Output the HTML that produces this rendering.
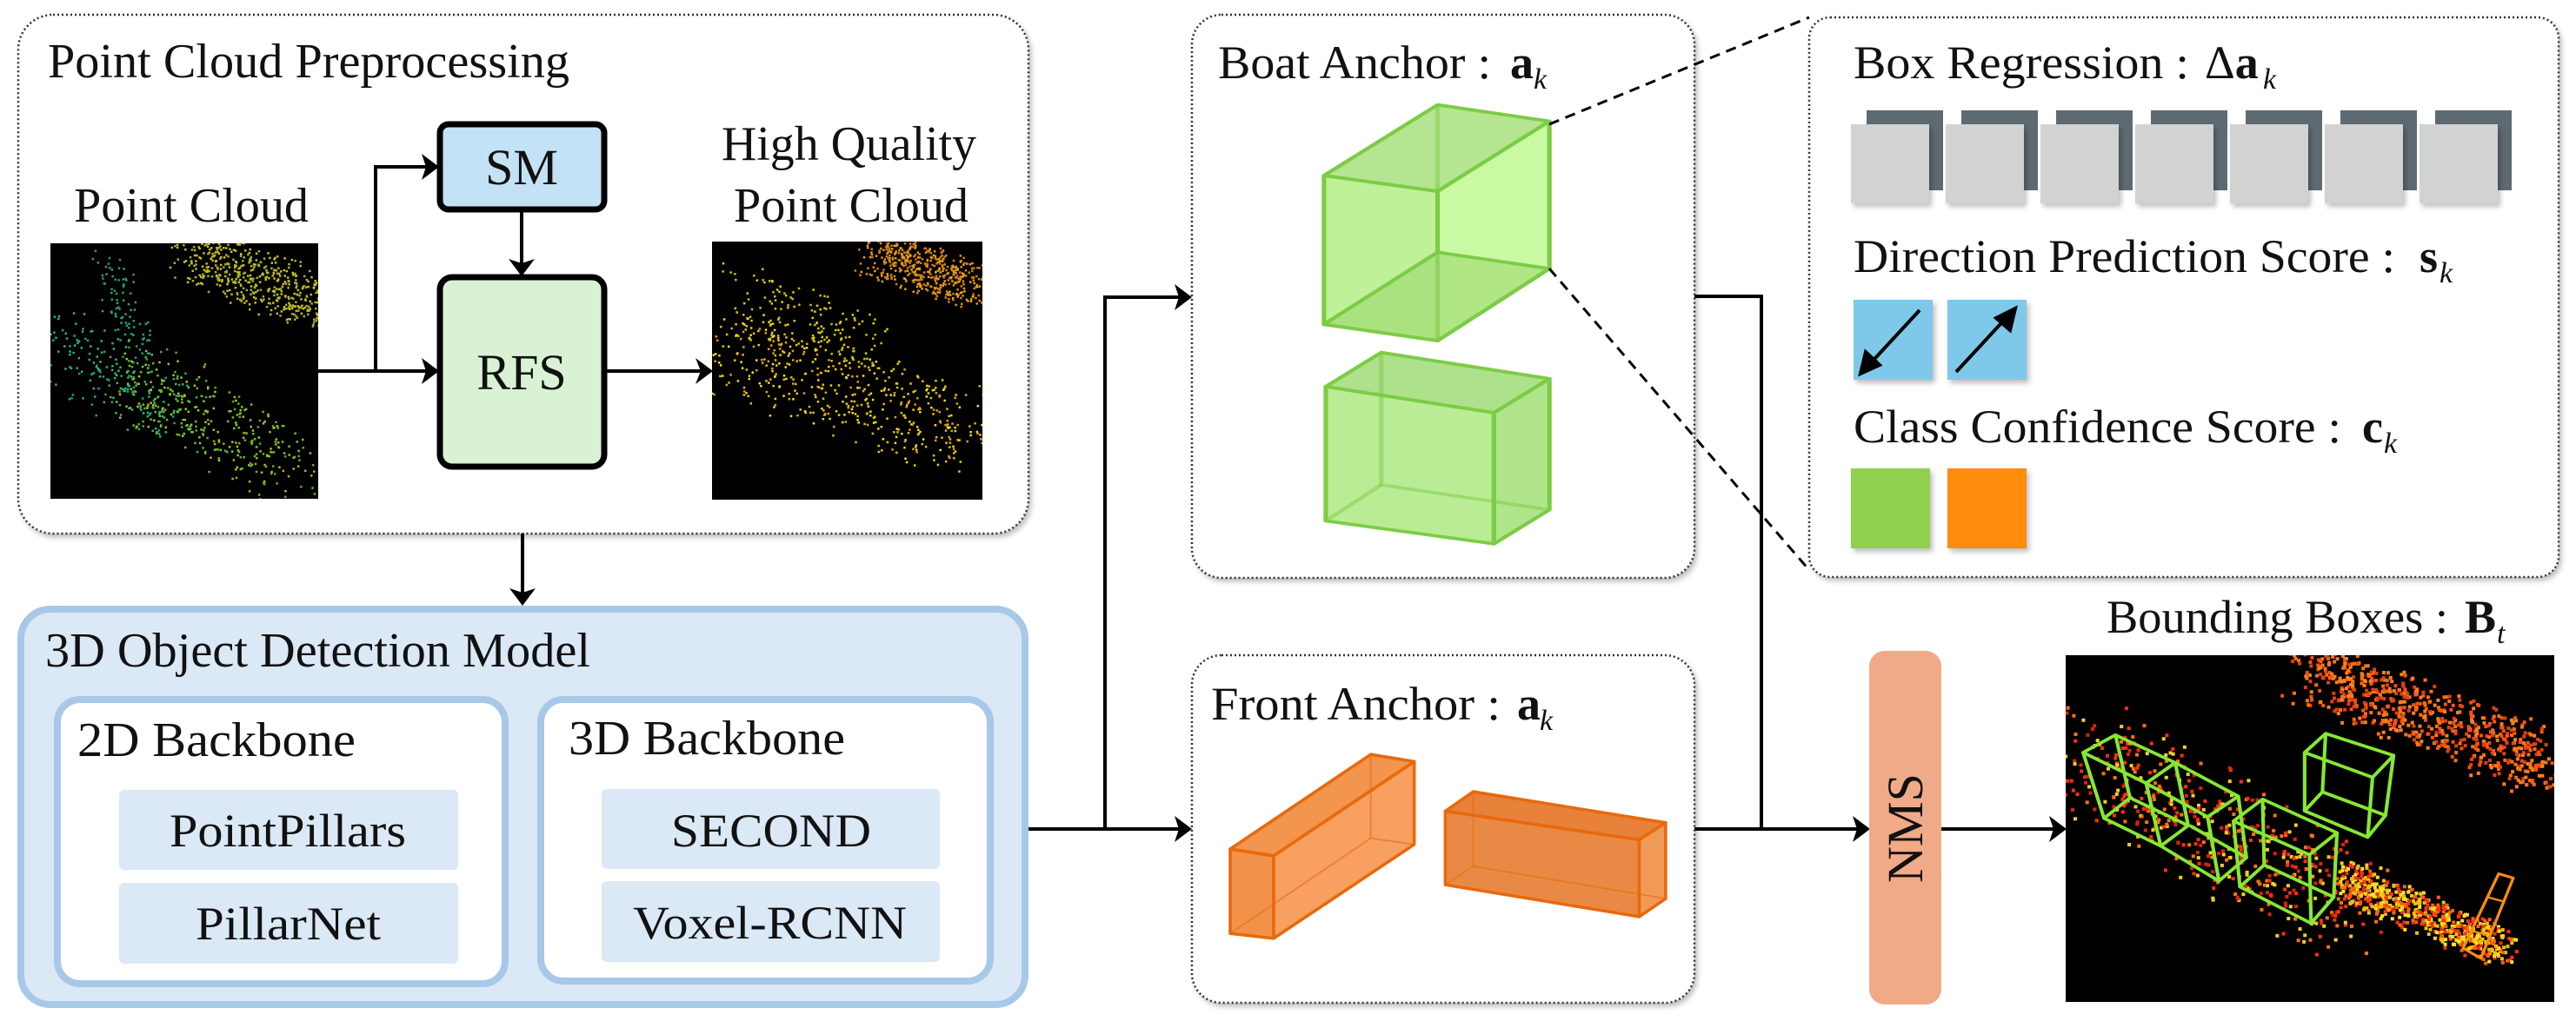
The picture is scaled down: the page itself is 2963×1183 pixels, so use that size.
<!DOCTYPE html>
<html><head><meta charset="utf-8"><style>
html,body{margin:0;padding:0;background:#fff;}
svg{display:block;}
text{font-family:"Liberation Serif","Times New Roman",serif;fill:#111;}
</style></head><body>
<svg id="s" width="2963" height="1183" viewBox="0 0 2963 1183" xmlns="http://www.w3.org/2000/svg" font-family="Liberation Serif, Times New Roman, serif">
<defs>
<filter id="sh" x="-20%" y="-20%" width="140%" height="140%"><feDropShadow dx="3" dy="4" stdDeviation="3" flood-color="#000" flood-opacity="0.25"/></filter>
<clipPath id="c1"><rect x="58" y="280" width="308" height="294"/></clipPath>
<clipPath id="c2"><rect x="819" y="278" width="311" height="297"/></clipPath>
<clipPath id="c3"><rect x="2376" y="754" width="562" height="399"/></clipPath>
</defs>

<rect x="21" y="17" width="1162" height="597" rx="40" fill="#fff" stroke="#333" stroke-width="2.5" stroke-dasharray="2 3" filter="url(#sh)"/>
<text x="55" y="89" font-size="56" textLength="600" lengthAdjust="spacingAndGlyphs">Point Cloud Preprocessing</text>
<text x="85" y="255" font-size="56" textLength="270" lengthAdjust="spacingAndGlyphs">Point Cloud</text>
<text x="830" y="184" font-size="56" textLength="293" lengthAdjust="spacingAndGlyphs">High Quality</text>
<text x="844" y="255" font-size="56" textLength="270" lengthAdjust="spacingAndGlyphs">Point Cloud</text>
<rect x="58" y="280" width="308" height="294" fill="#000"/>
<rect x="819" y="278" width="311" height="297" fill="#000"/>
<g id="pc1" clip-path="url(#c1)"></g><g id="pc2" clip-path="url(#c2)"></g>
<rect x="506" y="143" width="189" height="98" rx="10" fill="#c3e2f5" stroke="#000" stroke-width="7"/>
<text x="600" y="212" font-size="58" text-anchor="middle">SM</text>
<rect x="506" y="319" width="189" height="218" rx="14" fill="#d9f2d3" stroke="#000" stroke-width="7"/>
<text x="600" y="448" font-size="58" text-anchor="middle">RFS</text>

<g stroke="#000" stroke-width="4" fill="none">
<path d="M366 427 H490"/>
<path d="M432 427 V192 H490"/>
<path d="M600 243 V303"/>
<path d="M697 427 H806"/>
<path d="M601 614 V682"/>
<path d="M1183 954 H1356"/>
<path d="M1271 954 V342 H1356"/>
<path d="M1949 341 H2026 V954 H2136"/>
<path d="M1949 954 H2136"/>
<path d="M2233 954 H2362"/>
</g>
<g fill="#000">
<path d="M505 427 L485 412 L490 427 L485 442Z"/>
<path d="M505 192 L485 177 L490 192 L485 207Z"/>
<path d="M600 318 L585 298 L600 303 L615 298Z"/>
<path d="M820 427 L800 412 L806 427 L800 442Z"/>
<path d="M601 697 L586 677 L601 682 L616 677Z"/>
<path d="M1371 954 L1351 939 L1356 954 L1351 969Z"/>
<path d="M1371 342 L1351 327 L1356 342 L1351 357Z"/>
<path d="M2151 954 L2131 939 L2136 954 L2131 969Z"/>
<path d="M2377 954 L2357 939 L2362 954 L2357 969Z"/>
</g>

<rect x="24" y="701" width="1155" height="455" rx="34" fill="#dbe8f6" stroke="#a7c8e8" stroke-width="8"/>
<text x="52" y="767" font-size="56" textLength="627" lengthAdjust="spacingAndGlyphs">3D Object Detection Model</text>
<rect x="66" y="805" width="515" height="327" rx="26" fill="#fff" stroke="#a7c8e8" stroke-width="8"/>
<rect x="622" y="805" width="517" height="324" rx="26" fill="#fff" stroke="#a7c8e8" stroke-width="8"/>
<text x="89" y="870" font-size="56" textLength="320" lengthAdjust="spacingAndGlyphs">2D Backbone</text>
<text x="654" y="868" font-size="56" textLength="318" lengthAdjust="spacingAndGlyphs">3D Backbone</text>
<rect x="137" y="909" width="390" height="92" rx="6" fill="#dbe8f6"/>
<rect x="137" y="1016" width="390" height="93" rx="6" fill="#dbe8f6"/>
<rect x="692" y="908" width="389" height="92" rx="6" fill="#dbe8f6"/>
<rect x="692" y="1014" width="389" height="93" rx="6" fill="#dbe8f6"/>
<text x="195" y="974" font-size="54" textLength="272" lengthAdjust="spacingAndGlyphs">PointPillars</text>
<text x="225" y="1081" font-size="54" textLength="213" lengthAdjust="spacingAndGlyphs">PillarNet</text>
<text x="772" y="974" font-size="54" textLength="230" lengthAdjust="spacingAndGlyphs">SECOND</text>
<text x="728" y="1080" font-size="54" textLength="315" lengthAdjust="spacingAndGlyphs">Voxel-RCNN</text>

<rect x="1371" y="17" width="578" height="648" rx="34" fill="#fff" stroke="#333" stroke-width="2.5" stroke-dasharray="2 3" filter="url(#sh)"/>
<text x="1401" y="90" font-size="54" textLength="314" lengthAdjust="spacingAndGlyphs">Boat Anchor :</text>
<text x="1737" y="90" font-size="54" font-weight="bold">a</text>
<text x="1764" y="102" font-size="34" font-style="italic">k</text>
<g transform="translate(1350,0) scale(1.029,0.754)" stroke="#7ccc45" stroke-width="5" stroke-linejoin="round">
<polygon points="168,268 295,160 420,185 295,292" fill="#a8e07c" fill-opacity="0.85"/>
<polygon points="168,268 295,292 295,520 168,495" fill="#b8f08e" fill-opacity="0.9"/>
<polygon points="295,292 420,185 420,410 295,520" fill="#c4f89a" fill-opacity="0.9"/>
<polygon points="168,495 295,385 420,410 295,520" fill="#9ed870" fill-opacity="0.6"/>
<line x1="295" y1="160" x2="295" y2="385" stroke-opacity="0.5"/>
<polygon points="170,590 232,538 420,578 358,630" fill="#a0dc78" fill-opacity="0.85"/>
<polygon points="170,590 358,630 358,830 170,795" fill="#b2ea8a" fill-opacity="0.9"/>
<polygon points="358,630 420,578 420,778 358,830" fill="#a8e280" fill-opacity="0.9"/>
<polyline points="232,538 232,740 420,778" fill="none" stroke-opacity="0.5"/>
<line x1="232" y1="740" x2="170" y2="795" stroke-opacity="0.5"/>
</g>
<g stroke="#000" stroke-width="3" stroke-dasharray="12 8">
<line x1="1782" y1="143" x2="2081" y2="20"/>
<line x1="1782" y1="309" x2="2081" y2="656"/>
</g>

<rect x="2081" y="20" width="862" height="644" rx="24" fill="#fff" stroke="#333" stroke-width="2.5" stroke-dasharray="2 3" filter="url(#sh)"/>
<text x="2132" y="90" font-size="54" textLength="386" lengthAdjust="spacingAndGlyphs">Box Regression :</text>
<text x="2536" y="90" font-size="54">Δ<tspan font-weight="bold">a</tspan></text>
<text x="2603" y="102" font-size="34" font-style="italic">k</text>
<g id="gray"></g>
<text x="2132" y="313" font-size="54" textLength="623" lengthAdjust="spacingAndGlyphs">Direction Prediction Score :</text>
<text x="2783" y="313" font-size="54" font-weight="bold">s</text>
<text x="2806" y="325" font-size="34" font-style="italic">k</text>
<rect x="2132" y="345" width="91" height="92" fill="#7ec8ea" filter="url(#sh)"/>
<rect x="2240" y="345" width="91" height="92" fill="#7ec8ea" filter="url(#sh)"/>
<g stroke="#000" stroke-width="4" fill="#000">
<line x1="2208" y1="357" x2="2146" y2="424"/><path d="M2140 430 L2146 405 L2162 420Z"/>
<line x1="2250" y1="428" x2="2312" y2="361"/><path d="M2318 355 L2312 380 L2296 366Z"/>
</g>
<text x="2132" y="509" font-size="54" textLength="561" lengthAdjust="spacingAndGlyphs">Class Confidence Score :</text>
<text x="2717" y="509" font-size="54" font-weight="bold">c</text>
<text x="2742" y="521" font-size="34" font-style="italic">k</text>
<rect x="2129" y="539" width="91" height="92" fill="#8fd150" filter="url(#sh)"/>
<rect x="2240" y="539" width="91" height="92" fill="#ff8c10" filter="url(#sh)"/>

<rect x="1371" y="754" width="578" height="400" rx="34" fill="#fff" stroke="#333" stroke-width="2.5" stroke-dasharray="2 3" filter="url(#sh)"/>
<text x="1393" y="828" font-size="54" textLength="333" lengthAdjust="spacingAndGlyphs">Front Anchor :</text>
<text x="1745" y="828" font-size="54" font-weight="bold">a</text>
<text x="1771" y="840" font-size="34" font-style="italic">k</text>
<g transform="translate(1400,820) scale(0.357)" stroke="#e8690c" stroke-width="10" stroke-linejoin="round">
<polygon points="42,440 495,135 635,158 182,462" fill="#f08a3c" fill-opacity="0.9"/>
<polygon points="42,440 182,462 182,728 42,712" fill="#f2924a"/>
<polygon points="182,462 635,158 635,425 182,728" fill="#f7a060"/>
<polyline points="495,135 495,405 635,425" fill="none" stroke-width="5" stroke-opacity="0.6"/>
<line x1="495" y1="405" x2="42" y2="712" stroke-width="5" stroke-opacity="0.6"/>
<polygon points="735,318 825,255 1445,355 1360,410" fill="#e8813a"/>
<polygon points="735,318 1360,410 1360,658 735,555" fill="#e88a45"/>
<polygon points="1360,410 1445,355 1445,600 1360,658" fill="#f09a58"/>
<polyline points="825,255 825,495 1445,600" fill="none" stroke-width="5" stroke-opacity="0.6"/>
<line x1="825" y1="495" x2="735" y2="555" stroke-width="5" stroke-opacity="0.6"/>
</g>

<rect x="2150" y="749" width="83" height="407" rx="18" fill="#f0aa88"/>
<text transform="translate(2211,953) rotate(-90)" font-size="58" text-anchor="middle">NMS</text>

<text x="2423" y="728" font-size="54" textLength="393" lengthAdjust="spacingAndGlyphs">Bounding Boxes :</text>
<text x="2835" y="728" font-size="54" font-weight="bold">B</text>
<text x="2872" y="740" font-size="34" font-style="italic">t</text>
<rect x="2376" y="754" width="562" height="399" fill="#000"/>
<g id="pc3" clip-path="url(#c3)"></g>
<g transform="translate(2370,740) scale(0.372,0.336)" fill="none" stroke="#86e832" stroke-width="11" stroke-linejoin="round">
<polygon points="70,375 170,315 355,410 265,480"/>
<polygon points="135,600 215,530 395,625 310,695"/>
<line x1="70" y1="375" x2="135" y2="600"/><line x1="265" y1="480" x2="310" y2="695"/><line x1="355" y1="410" x2="395" y2="625"/><line x1="170" y1="315" x2="215" y2="530"/>
<polygon points="265,480 355,410 550,525 455,595"/>
<polyline points="310,695 490,815 575,735 400,625"/>
<line x1="455" y1="595" x2="490" y2="815"/><line x1="550" y1="525" x2="575" y2="735"/>
<polygon points="535,610 625,535 855,650 770,725"/>
<polygon points="555,835 630,760 845,870 775,960"/>
<line x1="535" y1="610" x2="555" y2="835"/><line x1="625" y1="535" x2="630" y2="760"/><line x1="855" y1="650" x2="845" y2="870"/><line x1="770" y1="725" x2="775" y2="960"/>
<polygon points="755,375 820,310 1030,385 965,460"/>
<polygon points="755,575 810,510 1005,590 950,665"/>
<line x1="755" y1="375" x2="755" y2="575"/><line x1="820" y1="310" x2="810" y2="510"/><line x1="1030" y1="385" x2="1005" y2="590"/><line x1="965" y1="460" x2="950" y2="665"/>
<polygon points="1245,1045 1355,790 1400,805 1300,1080" stroke="#ff8c10" stroke-width="9"/>
<line x1="1270" y1="985" x2="1320" y2="1000" stroke="#ff8c10" stroke-width="7"/>
<line x1="1320" y1="870" x2="1370" y2="885" stroke="#ff8c10" stroke-width="7"/>
</g>
</svg>
<script>
(function(){
var NS="http://www.w3.org/2000/svg";
var seed=12345;function r(){seed=(seed*16807)%2147483647;return seed/2147483647;}
function dot(g,x,y,s,c){var e=document.createElementNS(NS,"rect");e.setAttribute("x",x);e.setAttribute("y",y);e.setAttribute("width",s);e.setAttribute("height",s);e.setAttribute("fill",c);g.appendChild(e);}
var gg=document.getElementById("gray");
for(var i=0;i<7;i++){var x=2129+i*109;
 var b=document.createElementNS(NS,"rect");b.setAttribute("x",x+18);b.setAttribute("y",127);b.setAttribute("width",88);b.setAttribute("height",92);b.setAttribute("fill","#5e6a72");gg.appendChild(b);
 var f=document.createElementNS(NS,"rect");f.setAttribute("x",x);f.setAttribute("y",143);f.setAttribute("width",90);f.setAttribute("height",91);f.setAttribute("fill","#d2d2d2");f.setAttribute("filter","url(#sh)");gg.appendChild(f);}
function band(g,n,x0,y0,x1,y1,w,cols,s){for(var i=0;i<n;i++){var t=r();var x=x0+(x1-x0)*t+(r()-0.5)*w;var y=y0+(y1-y0)*t+(r()-0.5)*w;dot(g,x,y,s,cols[Math.floor(r()*cols.length)]);}}
var g1=document.getElementById("pc1");
band(g1,500,220,290,366,350,60,["#b8c020","#d0b820","#a0b030"],2.5);
band(g1,200,66,390,200,470,90,["#20a090","#30b080","#40b060"],2.5);
band(g1,350,150,430,340,540,80,["#60c020","#90c020","#50b030","#b0c020"],2.5);
band(g1,80,120,300,160,400,40,["#20a080","#30a070"],2.5);
var g2=document.getElementById("pc2");
band(g2,500,1000,290,1130,330,50,["#e09010","#d08010","#f0a020"],2.5);
band(g2,500,830,400,1120,500,90,["#f0d000","#e0c000","#f0e020","#e0a010"],2.5);
band(g2,150,850,330,1000,400,60,["#e0d000","#d0c000"],2.5);
var g3=document.getElementById("pc3");
band(g3,700,2650,770,2935,880,70,["#ff5010","#ff7010","#e04010","#ff8020"],4);
band(g3,600,2690,1010,2880,1090,40,["#ff3010","#ff6010","#f0c010","#ffe020"],4);
band(g3,500,2390,860,2700,1050,110,["#ff3010","#e02010","#ff7010","#f0d020"],4);
})();
</script>
</body></html>
